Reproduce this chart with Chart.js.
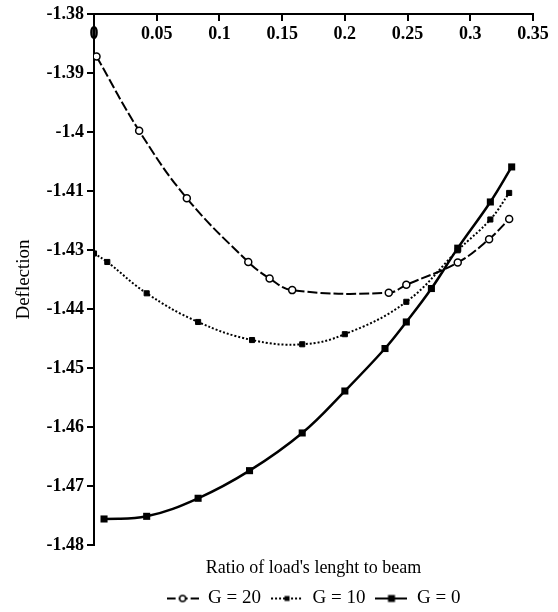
<!DOCTYPE html>
<html>
<head>
<meta charset="utf-8">
<script src="https://cdn.jsdelivr.net/npm/chart.js@4"></script>
<style>
  html, body { margin: 0; padding: 0; background: #fff; }
  #wrap { width: 558px; height: 612px; position: relative; }
</style>
</head>
<body>
<div id="wrap"><canvas id="c"></canvas></div>
<script>
// ---- data ----
const xTickLabels = ['0', '0.05', '0.1', '0.15', '0.2', '0.25', '0.3', '0.35'];
const yTickLabels = ['-1.38', '-1.39', '-1.4', '-1.41', '-1.43', '-1.44', '-1.45', '-1.46', '-1.47', '-1.48'];
const seriesNames = ['G = 20', 'G = 10', 'G = 0'];

const g20X = [0.002, 0.036, 0.074, 0.123, 0.140, 0.158, 0.235, 0.249, 0.290, 0.315, 0.331];
const g20Y = [-1.3880, -1.4020, -1.4147, -1.4267, -1.4298, -1.4320, -1.4325, -1.4310, -1.4268, -1.4224, -1.4186];

const g10X = [0, 0.0106, 0.042, 0.083, 0.126, 0.166, 0.200, 0.249, 0.290, 0.316, 0.331];
const g10Y = [-1.4251, -1.4267, -1.4326, -1.4380, -1.4414, -1.4422, -1.4403, -1.4342, -1.4245, -1.4187, -1.4137];

const g0X = [0.008, 0.042, 0.083, 0.124, 0.166, 0.200, 0.232, 0.249, 0.269, 0.290, 0.316, 0.333];
const g0Y = [-1.4751, -1.4746, -1.4712, -1.4660, -1.4589, -1.4510, -1.4430, -1.4380, -1.4317, -1.4241, -1.4154, -1.4088];

const pts = (xs, ys) => xs.map((x, i) => ({ x: x, y: ys[i] }));

// ---- legend samples (line + marker) ----
function sample(dash, marker) {
  const c = document.createElement('canvas');
  c.width = 32; c.height = 12;
  const g = c.getContext('2d');
  g.strokeStyle = '#000'; g.lineWidth = 2; g.setLineDash(dash);
  g.beginPath(); g.moveTo(0, 6); g.lineTo(32, 6); g.stroke();
  g.setLineDash([]);
  g.fillStyle = '#000';
  if (marker === 'circle') {
    g.beginPath(); g.arc(16, 6, 3, 0, Math.PI * 2);
    g.fillStyle = '#fff'; g.fill(); g.lineWidth = 1.5; g.stroke();
  } else if (marker === 'small') {
    g.fillRect(13.5, 3.5, 5, 5);
  } else {
    g.fillRect(12.5, 2.5, 7, 7);
  }
  return c;
}
const legendSamples = [sample([9, 3], 'circle'), sample([2, 2], 'small'), sample([], 'big')];

Chart.defaults.font.family = "'Liberation Serif', 'Times New Roman', serif";
Chart.defaults.color = '#000';

new Chart(document.getElementById('c'), {
  type: 'line',
  data: {
    datasets: [
      {
        label: seriesNames[0], data: pts(g20X, g20Y),
        borderColor: '#000', borderWidth: 2, borderDash: [10, 3], tension: 0.4,
        pointStyle: 'circle', pointRadius: 3.5, pointBorderWidth: 1.5,
        pointBackgroundColor: '#fff', pointBorderColor: '#000', fill: false
      },
      {
        label: seriesNames[1], data: pts(g10X, g10Y),
        borderColor: '#000', borderWidth: 2, borderDash: [2, 2], tension: 0.4,
        pointStyle: 'rect', pointRadius: 3.6, pointBorderWidth: 1,
        pointBackgroundColor: '#000', pointBorderColor: '#000', fill: false
      },
      {
        label: seriesNames[2], data: pts(g0X, g0Y),
        borderColor: '#000', borderWidth: 2.5, tension: 0.4,
        pointStyle: 'rect', pointRadius: 5, pointBorderWidth: 0,
        pointBackgroundColor: '#000', pointBorderColor: '#000', fill: false
      }
    ]
  },
  options: {
    responsive: true,
    maintainAspectRatio: false,
    animation: false,
    layout: { padding: { top: 14, right: 25, bottom: -6, left: 0 } },
    plugins: {
      tooltip: { enabled: false },
      legend: {
        position: 'bottom',
        fullSize: false,
        labels: {
          usePointStyle: true,
          pointStyleWidth: 32,
          padding: 10,
          color: '#000',
          font: { size: 19 },
          generateLabels: (chart) =>
            Chart.defaults.plugins.legend.labels.generateLabels(chart)
              .map((it, i) => Object.assign({}, it, { pointStyle: legendSamples[i] }))
        }
      }
    },
    scales: {
      x: {
        type: 'linear',
        position: { y: -1.38 },
        min: 0, max: 0.35,
        border: { display: true, color: '#000', width: 2 },
        grid: { display: true, drawOnChartArea: false, drawTicks: true, tickLength: 6, color: '#000', lineWidth: 2 },
        ticks: {
          stepSize: 0.05, padding: 4, color: '#000', autoSkip: false, maxRotation: 0,
          font: { size: 18, weight: 'bold' },
          callback: (v, i) => xTickLabels[i]
        }
      },
      x2: {
        type: 'linear',
        position: 'bottom',
        min: 0, max: 0.35,
        grid: { display: false },
        border: { display: false },
        ticks: { display: false },
        title: {
          display: true, text: "Ratio of load's lenght to beam", color: '#000',
          font: { size: 18 }, padding: { top: 0, bottom: 0 }
        },
        afterFit: (s) => { s.height = 34; }
      },
      y: {
        type: 'linear',
        position: 'left',
        min: -1.48, max: -1.38,
        border: { display: true, color: '#000', width: 2 },
        grid: { display: true, drawOnChartArea: false, drawTicks: true, tickLength: 7, color: '#000', lineWidth: 2 },
        ticks: {
          stepSize: 0.1 / 9, padding: 3, color: '#000', autoSkip: false,
          font: { size: 18, weight: 'bold' },
          callback: (v, i) => yTickLabels[yTickLabels.length - 1 - i]
        },
        title: {
          display: true, text: 'Deflection', color: '#000',
          font: { size: 19 }, padding: { top: 13, bottom: 0 }
        },
        afterFit: (s) => { s.width = 94; }
      }
    }
  }
});
</script>
</body>
</html>
